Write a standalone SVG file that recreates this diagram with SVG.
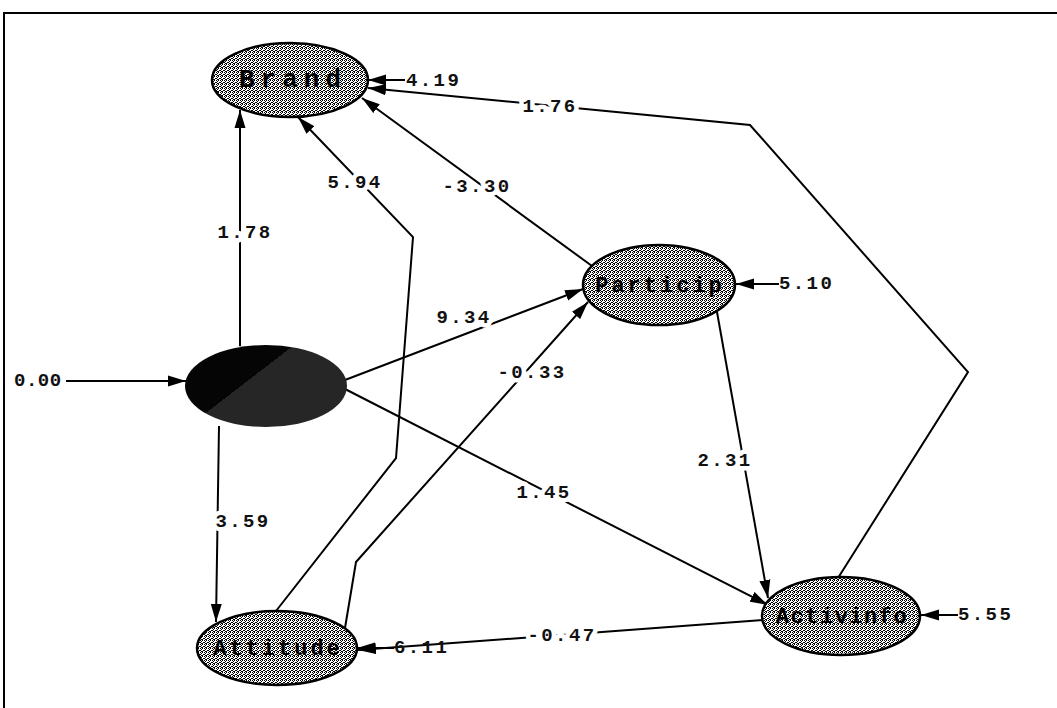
<svg xmlns="http://www.w3.org/2000/svg" width="1057" height="708" viewBox="0 0 1057 708">
  <defs>
    <style>
      .frame { stroke: #000; stroke-width: 2; fill: none; }
      .path { stroke: #000; stroke-width: 2; fill: none; marker-end: url(#head); }
      .lbl { font-family: "Liberation Mono", "Courier New", monospace; font-weight: bold; font-size: 19px; letter-spacing: 2.4px; fill: #111; text-anchor: middle; dominant-baseline: central; paint-order: stroke; stroke: #fff; stroke-width: 9px; stroke-linejoin: round; }
      .err { font-family: "Liberation Mono", "Courier New", monospace; font-weight: bold; font-size: 19px; letter-spacing: 2.4px; fill: #111; dominant-baseline: central; }
      .var { stroke: #000; stroke-width: 2.5; fill: url(#dither); }
      .name { font-family: "Liberation Mono", "Courier New", monospace; font-weight: bold; font-size: 22px; letter-spacing: 3px; fill: #000; text-anchor: middle; dominant-baseline: central; }
    </style>
    <!-- stippled grey fill used for the endogenous latent variables -->
    <pattern id="dither" width="4" height="4" patternUnits="userSpaceOnUse">
      <rect width="4" height="4" fill="#fff"/>
      <rect x="0" y="0" width="1" height="1" fill="#000"/>
      <rect x="2" y="0" width="1" height="1" fill="#000"/>
      <rect x="1" y="1" width="1" height="1" fill="#000"/>
      <rect x="3" y="2" width="1" height="1" fill="#000"/>
      <rect x="0" y="2" width="1" height="1" fill="#000"/>
      <rect x="2" y="3" width="1" height="1" fill="#000"/>
      <rect x="1" y="3" width="1" height="1" fill="#000"/>
    </pattern>
    <linearGradient id="ksiFill" gradientUnits="userSpaceOnUse" x1="240" y1="366" x2="260" y2="392">
      <stop offset="0.5" stop-color="#050505"/>
      <stop offset="0.5" stop-color="#262626"/>
    </linearGradient>
    <marker id="head" markerUnits="userSpaceOnUse" markerWidth="18" markerHeight="12" refX="18" refY="6" orient="auto">
      <path d="M0,0.5 L18,6 L0,11.5 z" fill="#000"/>
    </marker>
  </defs>

  <rect width="1057" height="708" fill="#fff"/>

  <!-- outer frame -->
  <path class="frame" d="M1057,13 L4,13 L4,708"/>

  <!-- paths between the latent variables -->
  <g id="connectors">
    <path class="path" d="M240,346 L240,110"/>
    <path class="path" d="M219,426 L216,622"/>
    <path class="path" d="M345,380 L583,289"/>
    <path class="path" d="M345,389 L768,605"/>
    <path class="path" d="M276,611 L396,458 L413,237 L298,117"/>
    <path class="path" d="M345,628 L356,562 L588,302"/>
    <path class="path" d="M592,266 L362,98"/>
    <path class="path" d="M717,312 L768,598"/>
    <path class="path" d="M838,578 L968,372 L750,125 L368,88"/>
    <path class="path" d="M763,620 L358,650"/>
    <!-- error variances -->
    <path class="path" d="M66,381 L186,381"/>
    <path class="path" d="M405,80 L368,80"/>
    <path class="path" d="M779,284 L736,284"/>
    <path class="path" d="M958,615 L921,615"/>
    <path class="path" d="M394,648 L357,648"/>

    <!-- path coefficients -->
    <text class="lbl" x="245" y="233">1.78</text>
    <text class="lbl" x="243" y="522">3.59</text>
    <text class="lbl" x="464" y="318">9.34</text>
    <text class="lbl" x="355" y="183">5.94</text>
    <text class="lbl" x="477" y="187">-3.30</text>
    <text class="lbl" x="532" y="373">-0.33</text>
    <text class="lbl" x="544" y="493">1.45</text>
    <text class="lbl" x="725" y="461">2.31</text>
    <text class="lbl" x="550" y="107">1.76</text>
    <text class="lbl" x="562" y="636">-0.47</text>

    <!-- error variance values -->
    <text class="err" x="14" y="381" style="letter-spacing:0.5px">0.00</text>
    <text class="err" x="406" y="81">4.19</text>
    <text class="err" x="779" y="284">5.10</text>
    <text class="err" x="958" y="615">5.55</text>
    <text class="err" x="394" y="648">6.11</text>
  </g>

  <g id="ksi">
    <ellipse cx="266" cy="386" rx="81" ry="41" fill="url(#ksiFill)"/>
  </g>

  <g id="brand">
    <ellipse class="var" cx="290" cy="80" rx="78" ry="37"/>
    <text class="name" x="293" y="80" style="font-size:26px;letter-spacing:6px">Brand</text>
  </g>

  <g id="particip">
    <ellipse class="var" cx="659" cy="285" rx="76" ry="40"/>
    <text class="name" x="660" y="286">Particip</text>
  </g>

  <g id="attitude">
    <ellipse class="var" cx="277" cy="648" rx="80" ry="37"/>
    <text class="name" x="278" y="649">Attitude</text>
  </g>

  <g id="activinfo">
    <ellipse class="var" cx="841" cy="616" rx="79" ry="39"/>
    <text class="name" x="842" y="617" style="letter-spacing:1.5px">Activinfo</text>
  </g>
</svg>
